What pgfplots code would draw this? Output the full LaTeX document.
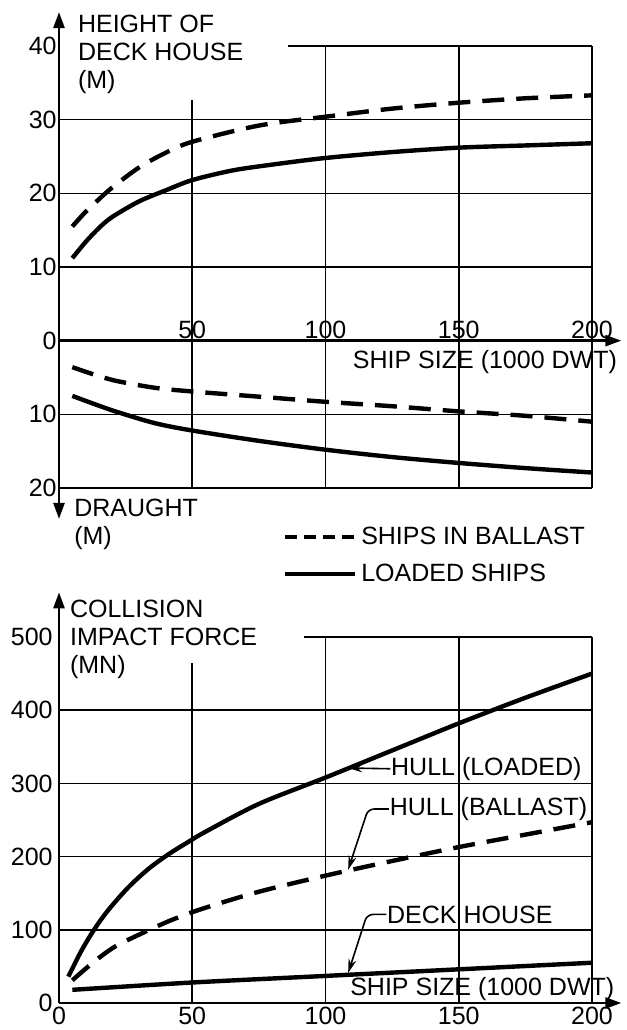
\documentclass[border=0pt]{standalone}
\usepackage{fontspec}
\setmainfont{Liberation Sans}
\usepackage{pgfplots}
\pgfplotsset{compat=1.18}
\usetikzlibrary{arrows.meta}
\newcommand{\fnt}{\fontsize{12.5}{14}\selectfont}
\tikzset{
 grd/.style={line width=0.8pt},
 ax/.style={line width=1.3pt, -{Triangle[length=8pt,width=5.5pt]}},
 lead/.style={line width=0.8pt, -{Stealth[length=7pt,width=4pt]}, rounded corners=3pt},
}
\pgfplotsset{
 base/.style={scale only axis, width=266.5pt, xmin=0, xmax=200, clip=false,
   axis line style={draw=none}, major tick length=0pt, tick style={draw=none},
   /pgf/number format/assume math mode=true,
   ticklabel style={font=\fnt},
 },
 curve/.style={line width=2.2pt, black, smooth, tension=0.5},
 dcurve/.style={curve, dash pattern=on 11pt off 6pt},
}
\begin{document}
\begin{tikzpicture}[font=\fnt]
\useasboundingbox (0,0) rectangle (313.5pt,515pt);
% ---------------- top chart ----------------
\begin{axis}[base, at={(29.5pt,271pt)}, anchor=south west, height=221pt,
  ymin=-20, ymax=40, axis x line=middle, axis y line=left,
  xtick={50,100,150,200}, xticklabel style={anchor=south, inner sep=1pt},
  ytick={-20,-10,0,10,20,30,40}, yticklabels={20,10,0,10,20,30,40},
  yticklabel style={anchor=east, inner sep=1pt},
  legend style={at={(axis cs:84,-29.2)}, anchor=west, draw=none, fill=none,
    font=\fnt, row sep=4.5pt, inner sep=0pt},
  legend cell align=left,
  legend image code/.code={\draw[#1] (0pt,0pt) -- (35pt,0pt);},
]
% grid
\draw[grd] (axis cs:0,-20) -- (axis cs:200,-20);
\draw[grd] (axis cs:0,-10) -- (axis cs:200,-10);
\draw[grd] (axis cs:0,10) -- (axis cs:200,10);
\draw[grd] (axis cs:0,20) -- (axis cs:200,20);
\draw[grd] (axis cs:0,30) -- (axis cs:200,30);
\draw[grd] (axis cs:86,40) -- (axis cs:200,40);
\draw[grd] (axis cs:50,-20) -- (axis cs:50,32.7);
\draw[grd] (axis cs:100,-20) -- (axis cs:100,40);
\draw[grd] (axis cs:150,-20) -- (axis cs:150,40);
\draw[grd] (axis cs:200,-20) -- (axis cs:200,40);
% axes
\draw[ax] (axis cs:0,0) -- (axis cs:211,0);
\draw[ax] (axis cs:0,0) -- (axis cs:0,44.6);
\draw[ax] (axis cs:0,0) -- (axis cs:0,-24.2);
% height of deck house, ships in ballast
\addplot[dcurve, forget plot] coordinates {(5,15.5) (10,17.5) (15,19.2) (20,20.8) (30,23.5) (40,25.5) (50,27.0) (75,29.2) (100,30.4) (125,31.5) (150,32.3) (175,32.9) (200,33.3)};
% height of deck house, loaded ships
\addplot[curve, forget plot] coordinates {(5,11.2) (10,13.4) (15,15.3) (20,16.8) (30,18.9) (40,20.4) (50,21.8) (65,23.1) (80,23.9) (100,24.8) (125,25.6) (150,26.2) (175,26.5) (200,26.8)};
% draught (plotted downward), ships in ballast
\addplot[dcurve, forget plot] coordinates {(5,-3.6) (14,-4.7) (22,-5.5) (36,-6.4) (50,-6.9) (75,-7.6) (100,-8.3) (125,-8.9) (150,-9.6) (175,-10.2) (200,-11.0)};
% draught, loaded ships
\addplot[curve, forget plot] coordinates {(5,-7.5) (14,-8.7) (22,-9.7) (36,-11.2) (50,-12.2) (75,-13.6) (100,-14.8) (125,-15.8) (150,-16.6) (175,-17.3) (200,-17.9)};
\addlegendimage{line width=2pt, dash pattern=on 6pt off 3.5pt}
\addlegendentry{SHIPS IN BALLAST}
\addlegendimage{line width=2pt}
\addlegendentry{LOADED SHIPS}
\node[anchor=north west, align=left, inner sep=0pt] at (axis cs:7,44.3) {HEIGHT OF\\DECK HOUSE\\(M)};
\node[anchor=north west, align=left, inner sep=0pt] at (axis cs:5.6,-21.5) {DRAUGHT\\(M)};
\node[anchor=north east, inner sep=0pt] at (axis cs:209.5,-1.3) {SHIP SIZE (1000 DWT)};
\end{axis}
% ---------------- bottom chart ----------------
\begin{axis}[base, at={(29.5pt,13.5pt)}, anchor=south west, height=183pt,
  ymin=0, ymax=500,
  xtick={0,50,100,150,200}, ytick={0,100,200,300,400,500},
  xticklabel style={anchor=north, inner sep=1pt, yshift=-1pt},
  yticklabel style={anchor=east, inner sep=3pt},
]
\draw[grd] (axis cs:0,100) -- (axis cs:200,100);
\draw[grd] (axis cs:0,200) -- (axis cs:200,200);
\draw[grd] (axis cs:0,300) -- (axis cs:200,300);
\draw[grd] (axis cs:0,400) -- (axis cs:200,400);
\draw[grd] (axis cs:92,500) -- (axis cs:200,500);
\draw[grd] (axis cs:50,0) -- (axis cs:50,465);
\draw[grd] (axis cs:100,0) -- (axis cs:100,500);
\draw[grd] (axis cs:150,0) -- (axis cs:150,500);
\draw[grd] (axis cs:200,0) -- (axis cs:200,500);
\draw[ax] (axis cs:0,0) -- (axis cs:211,0);
\draw[ax] (axis cs:0,0) -- (axis cs:0,561);
% hull, loaded
\addplot[curve] coordinates {(3.5,36) (8.5,72) (13.5,102) (18.5,127) (26,158) (33.5,183) (41,203) (48.5,220) (55,234) (75,272) (100,308) (125,345) (150,382) (175,417) (200,450)};
% hull, ballast
\addplot[dcurve] coordinates {(5,31) (13,56) (21,77) (31,95) (42,113) (54,129) (75,152) (100,174) (125,194) (150,213) (175,230) (200,247)};
% deck house
\addplot[curve] coordinates {(5,18) (50,28) (100,37) (150,46) (200,55)};
\node[anchor=north west, align=left, inner sep=0pt] at (axis cs:4,551) {COLLISION\\IMPACT FORCE\\(MN)};
\node[anchor=south east, inner sep=0pt] at (axis cs:208.5,3) {SHIP SIZE (1000 DWT)};
\node[anchor=west, inner sep=0pt] at (axis cs:124.5,320) {HULL (LOADED)};
\node[anchor=west, inner sep=0pt] at (axis cs:124,265) {HULL (BALLAST)};
\node[anchor=west, inner sep=0pt] at (axis cs:123,121) {DECK HOUSE};
\draw[lead] (axis cs:124.3,320) -- (axis cs:108.5,321);
\draw[lead] (axis cs:123.8,265) -- (axis cs:116,265) -- (axis cs:108.5,182);
\draw[lead] (axis cs:122.8,121) -- (axis cs:115.6,121) -- (axis cs:108.5,41);
\end{axis}
\end{tikzpicture}
\end{document}
